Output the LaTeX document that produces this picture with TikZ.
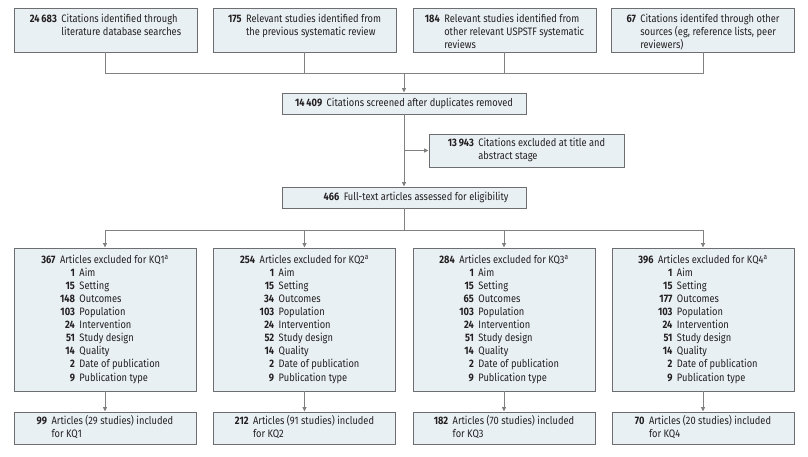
\documentclass[tikz,border=0pt]{standalone}
\usepackage{fontspec}
\setmainfont{Fira Sans}[FakeStretch=0.86]
\usetikzlibrary{arrows.meta}
\definecolor{boxfill}{RGB}{232,240,244}
\definecolor{boxline}{RGB}{110,110,112}
\definecolor{connc}{RGB}{128,128,128}
\definecolor{txt}{RGB}{35,31,32}
\newcommand\topcell[2]{\parbox[c][34pt][t]{178pt}{\centering\begin{tabular}[t]{@{}r@{\hspace{4.5pt}}l@{}}\textbf{#1} & \begin{tabular}[t]{@{}l@{}}#2\end{tabular}\end{tabular}}}
\newcommand\twocell[2]{\begin{tabular}{@{}r@{\hspace{4.5pt}}l@{}}\textbf{#1} & \begin{tabular}[t]{@{}l@{}}#2\end{tabular}\end{tabular}}
\newcommand\exclcell[4]{\begin{tabular}{@{}r@{\hspace{4.5pt}}r@{\hspace{4.5pt}}l@{}}
\textbf{#1} & \multicolumn{2}{@{}l@{}}{Articles excluded for KQ#2\textsuperscript{a}}\\
 & \textbf{1} & Aim\\
 & \textbf{15} & Setting\\
 & \textbf{#3} & Outcomes\\
 & \textbf{103} & Population\\
 & \textbf{24} & Intervention\\
 & \textbf{#4} & Study design\\
 & \textbf{14} & Quality\\
 & \textbf{2} & Date of publication\\
 & \textbf{9} & Publication type
\end{tabular}}
\begin{document}
\begin{tikzpicture}[x=1pt,y=-1pt,
  box/.style={draw=boxline, fill=boxfill, line width=0.9pt, inner sep=0pt, text=txt,
    font=\fontsize{10.8}{13.1}\selectfont},
  topbox/.style={box, minimum width=183pt, minimum height=44pt},
  exbox/.style={box, minimum width=182pt, minimum height=143pt},
  inbox/.style={box, minimum width=182pt, minimum height=32pt},
  conn/.style={draw=connc, line width=0.9pt},
  arr/.style={conn, -{Triangle[length=4.5pt,width=4pt]}}]
\useasboundingbox (0,0) rectangle (808,456);

% top row
\node[topbox] (t1) at (105.5,30) {\topcell{24\,683}{Citations identified through\\literature database searches}};
\node[topbox] (t2) at (304.5,30) {\topcell{175}{Relevant studies identified from\\the previous systematic review}};
\node[topbox] (t3) at (504.5,30) {\topcell{184}{Relevant studies identified from\\other relevant USPSTF systematic\\reviews}};
\node[topbox] (t4) at (703,30) {\topcell{67}{Citations identifed through other\\sources (eg, reference lists, peer\\reviewers)}};

% middle
\node[box, minimum width=244pt, minimum height=21pt] (s1) at (404,103.5) {\textbf{14\,409}\hspace{4.5pt}Citations screened after duplicates removed};
\node[box, minimum width=195pt, minimum height=33pt] (ex) at (526.5,150.5) {\twocell{13\,943}{Citations excluded at title and\\abstract stage}};
\node[box, minimum width=244pt, minimum height=21pt] (ft) at (404,197.5) {\hspace{24pt}\textbf{466}\hspace{4.5pt}Full-text articles assessed for eligibility};

% exclusion boxes
\node[exbox] (e1) at (105,319.5) {\exclcell{367}{1}{148}{51}};
\node[exbox] (e2) at (304.5,319.5) {\exclcell{254}{2}{34}{52}};
\node[exbox] (e3) at (504,319.5) {\exclcell{284}{3}{65}{51}};
\node[exbox] (e4) at (703,319.5) {\exclcell{396}{4}{177}{51}};

% included boxes
\node[inbox] (b1) at (105,428) {\twocell{99}{Articles (29 studies) included\\for KQ1}};
\node[inbox] (b2) at (304.5,428) {\twocell{212}{Articles (91 studies) included\\for KQ2}};
\node[inbox] (b3) at (504,428) {\twocell{182}{Articles (70 studies) included\\for KQ3}};
\node[inbox] (b4) at (703,428) {\twocell{70}{Articles (20 studies) included\\for KQ4}};

% connectors
\coordinate (hj) at (404,73);
\draw[conn] (t1.south) -- (t1.south |- hj) -- (t4.south |- hj) -- (t4.south);
\draw[conn] (t2.south) -- (t2.south |- hj);
\draw[conn] (t3.south) -- (t3.south |- hj);
\draw[arr] (hj) -- (s1.north);
\draw[arr] (s1.south) -- (ft.north);
\draw[arr] (s1.south |- ex.west) -- (ex.west);

\coordinate (hj2) at (404,230);
\draw[conn] (ft.south) -- (hj2);
\draw[conn] (e1.north |- hj2) -- (e4.north |- hj2);
\foreach \n in {e1,e2,e3,e4} \draw[arr] (\n.north |- hj2) -- (\n.north);
\draw[arr] (e1.south) -- (b1.north);
\draw[arr] (e2.south) -- (b2.north);
\draw[arr] (e3.south) -- (b3.north);
\draw[arr] (e4.south) -- (b4.north);
\end{tikzpicture}
\end{document}
